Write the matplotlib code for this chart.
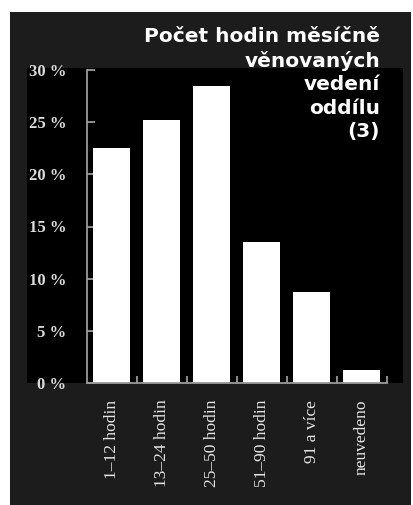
import matplotlib
matplotlib.use("Agg")
import matplotlib.pyplot as plt
from matplotlib.patches import Rectangle

# data
categories = ["1–12 hodin", "13–24 hodin", "25–50 hodin", "51–90 hodin", "91 a více", "neuvedeno"]
shares = [22.5, 25.2, 28.5, 13.5, 8.7, 1.2]
y_ticks = [0, 5, 10, 15, 20, 25, 30]
y_labels = ["0 %", "5 %", "10 %", "15 %", "20 %", "25 %", "30 %"]
title_lines = ["Počet hodin měsíčně", "věnovaných", "vedení", "oddílu", "(3)"]

W, H = 413, 505
fig = plt.figure(figsize=(W / 100, H / 100), dpi=100, facecolor="white")

def px_rect(x0, y0, x1, y1, color):
    # pixel box (top-left origin) -> figure fraction patch
    fig.patches.append(Rectangle((x0 / W, 1 - y1 / H), (x1 - x0) / W, (y1 - y0) / H,
                                 transform=fig.transFigure, facecolor=color,
                                 edgecolor="none", zorder=-2))

px_rect(10, 12, 411, 505, "#1c1c1c")   # dark outer panel
px_rect(27, 68, 403, 383, "black")     # black chart field

ax = fig.add_axes([87 / W, (H - 383) / H, (403 - 87) / W, (383 - 68) / H])
ax.set_facecolor("black")
ax.patch.set_alpha(0)

x = list(range(len(categories)))
ax.bar(x, shares, width=0.74, color="white", zorder=2)

ax.set_xlim(-0.5, 5.83)
ax.set_ylim(0, 30 * 315 / 313)

for s in ["top", "right"]:
    ax.spines[s].set_visible(False)
for s in ["left", "bottom"]:
    ax.spines[s].set_color("#9a9a9a")
    ax.spines[s].set_linewidth(1.3)
ax.spines["left"].set_bounds(0, 30)
ax.spines["bottom"].set_bounds(-0.5, 5.5)

ax.set_yticks(y_ticks)
ax.set_yticklabels(y_labels, family="Liberation Serif", fontweight="bold",
                   fontsize=12, color="#dcdcdc")
ax.tick_params(axis="y", direction="in", length=6, width=1.3, color="#9a9a9a", pad=15)

ax.set_xticks(x)
ax.set_xticklabels(categories, rotation=90, family="Liberation Serif",
                   fontsize=12.5, color="#e6e6e6", va="top")
ax.tick_params(axis="x", length=0, pad=12)
ax.set_xticks([i + 0.5 for i in x], minor=True)
ax.tick_params(axis="x", which="minor", direction="in", length=5, width=1.3, color="#9a9a9a")

fig.text(380 / W, 1 - 27 / H, "\n".join(title_lines), ha="right", va="top",
         family="DejaVu Sans", fontweight="bold", fontsize=14.5, color="white",
         linespacing=1.3, zorder=5)

fig.savefig("out.png", dpi=100, facecolor="white")
